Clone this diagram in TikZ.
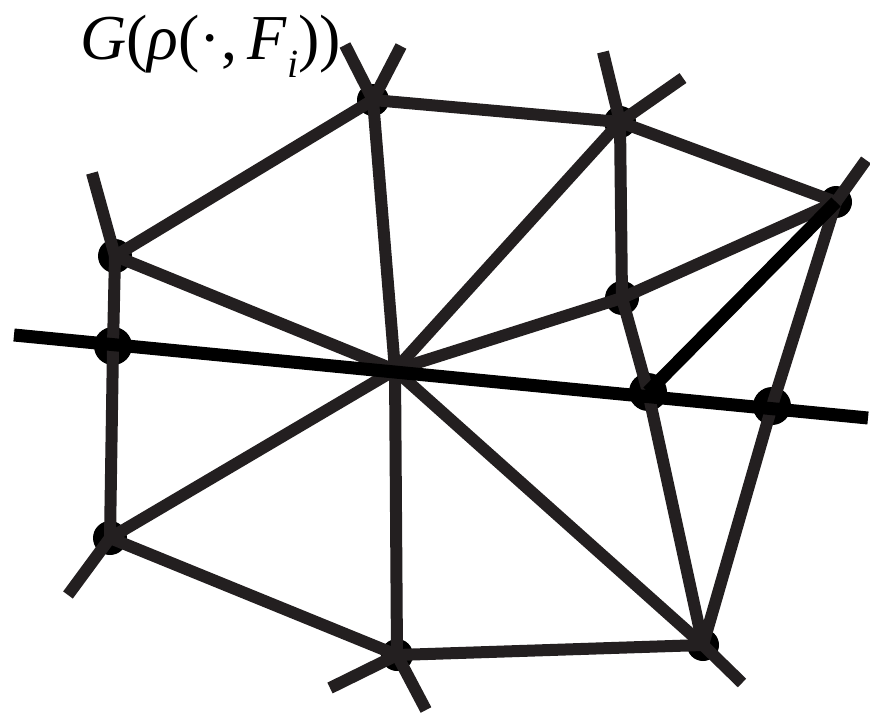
\documentclass[tikz,border=0pt]{standalone}
\usepackage{fontspec}
\setmainfont{Liberation Serif}
\definecolor{edgecol}{HTML}{231F20}
\tikzset{
  edge/.style={draw=edgecol, line width=12pt},
  bold/.style={draw=black, line width=13pt},
  dot/.style={fill=black},
}
\begin{document}
\begin{tikzpicture}[x=1pt,y=-1pt]
\useasboundingbox (0,0) rectangle (870,714);
% vertices
\coordinate (A) at (373,100);
\coordinate (B) at (620,122);
\coordinate (C) at (836,202);
\coordinate (D) at (115,256);
\coordinate (E) at (622,298);
\coordinate (F) at (113,346);
\coordinate (O) at (395,370);
\coordinate (G) at (648,392);
\coordinate (H) at (772,406);
\coordinate (I) at (110,538);
\coordinate (J) at (397,655);
\coordinate (K) at (703,645);
% free ends
\coordinate (a1) at (345,45);
\coordinate (a2) at (401,46);
\coordinate (b1) at (603,52);
\coordinate (b2) at (683,78);
\coordinate (c1) at (866,160);
\coordinate (d1) at (92,173);
\coordinate (i1) at (68,595);
\coordinate (j1) at (330,688);
\coordinate (j2) at (426,710);
\coordinate (k1) at (742,683);
\coordinate (L1) at (14,335);
\coordinate (L2) at (868,418);
% dots
\foreach \p/\r in {A/16,B/16,C/16,D/17,E/17,F/19,G/19,H/19,I/17,J/16,K/16}
  \fill[dot] (\p) circle (\r);
% edges
\draw[edge] (A) -- (B);
\draw[edge] (A) -- (D);
\draw[edge] (A) -- (O);
\draw[edge] (B) -- (C);
\draw[edge] (B) -- (E);
\draw[edge] (B) -- (O);
\draw[edge] (C) -- (E);
\draw[edge] (C) -- (H);
\draw[edge] (H) -- (K);
\draw[edge] (D) -- (F);
\draw[edge] (D) -- (O);
\draw[edge] (E) -- (O);
\draw[edge] (E) -- (G);
\draw[edge] (G) -- (K);
\draw[edge] (F) -- (I);
\draw[edge] (I) -- (O);
\draw[edge] (I) -- (J);
\draw[edge] (O) -- (J);
\draw[edge] (O) -- (K);
\draw[edge] (J) -- (K);
% stubs
\draw[edge] (A) -- (a1);
\draw[edge] (A) -- (a2);
\draw[edge] (B) -- (b1);
\draw[edge] (B) -- (b2);
\draw[edge] (C) -- (c1);
\draw[edge] (D) -- (d1);
\draw[edge] (I) -- (i1);
\draw[edge] (J) -- (j1);
\draw[edge] (J) -- (j2);
\draw[edge] (K) -- (k1);
% bold lines
\draw[bold] (C) -- (G);
\draw[bold] (L1) -- (L2);
% label
\node[anchor=base west, inner sep=0pt] (lbl) at (80,60)
  {\fontsize{64}{64}\selectfont\textit{G}(\textit{ρ}(·,\,\textit{F}\raisebox{-0.28em}{\fontsize{40}{40}\selectfont\textit{i}}))};
\end{tikzpicture}
\end{document}
